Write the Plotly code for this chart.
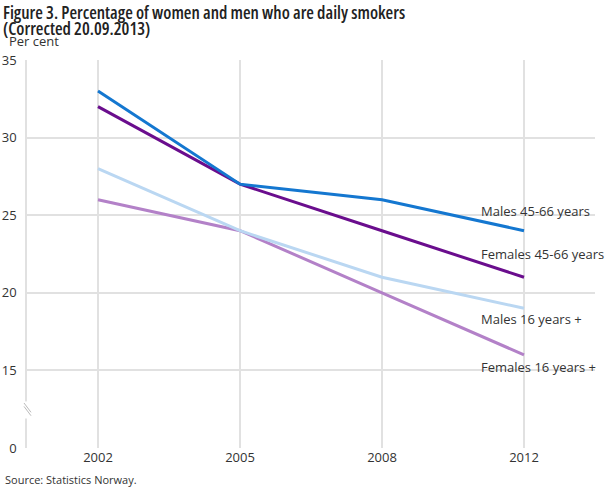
import plotly.graph_objects as go

years = ["2002", "2005", "2008", "2012"]
males_45_66 = [33, 27, 26, 24]
females_45_66 = [32, 27, 24, 21]
males_16 = [28, 24, 21, 19]
females_16 = [26, 24, 20, 16]

series_names = ["Males 45-66 years", "Females 45-66 years", "Males 16 years +", "Females 16 years +"]
series_values = [males_45_66, females_45_66, males_16, females_16]
colors = ["#1477d0", "#6a0d8d", "#bad7f2", "#b381c8"]
# where the end labels sit on the y axis
label_y = [25.3, 22.5, 18.3, 15.2]

# the axis is broken: the 0 tick is drawn where 10 would be
tick_vals = [10, 15, 20, 25, 30, 35]
tick_text = ["0", "15", "20", "25", "30", "35"]

title_lines = ["Figure 3. Percentage of women and men who are daily smokers",
               "(Corrected 20.09.2013)"]

font = "Open Sans"
text_color = "#333333"
grid_color = "#e1e1e1"

fig = go.Figure()

# draw the lighter ones first so the dark ones sit on top
for i in [3, 2, 1, 0]:
    fig.add_trace(go.Scatter(x=years, y=series_values[i], mode="lines",
                             name=series_names[i],
                             line=dict(color=colors[i], width=3),
                             hoverinfo="x+y+name"))

# category axis: annotations take the category index
last = len(years) - 1
for name, ly in zip(series_names, label_y):
    fig.add_annotation(x=last, y=ly, text=name, showarrow=False,
                       xanchor="left", xshift=-45,
                       font=dict(family=font, size=13, color=text_color))

# title font is a condensed open sans semibold
for line, shift in zip(title_lines, [48, 32]):
    fig.add_annotation(xref="paper", yref="paper", x=-0.046, y=1.0, yshift=shift,
                       xanchor="left", yanchor="middle",
                       text='<span style="font-stretch:condensed">' + line + "</span>",
                       showarrow=False,
                       font=dict(family=font, size=17.5, color="#222222", weight=600))
fig.add_annotation(xref="paper", yref="paper", x=-0.035, y=1.0, yshift=8,
                   xanchor="left", yanchor="bottom", text="Per cent",
                   showarrow=False, font=dict(family=font, size=13, color=text_color))
fig.add_annotation(xref="paper", yref="paper", x=-0.043, y=0.0, yshift=-22,
                   xanchor="left", yanchor="top", text="Source: Statistics Norway.",
                   showarrow=False, font=dict(family=font, size=11, color=text_color))

# axis break marks
px = 1 / 568
fig.add_shape(type="rect", xref="paper", yref="y", x0=-3 * px, x1=4 * px, y0=11.9, y1=13.0,
              fillcolor="white", line=dict(width=0), layer="above")
for dy in [0, 0.22]:
    fig.add_shape(type="line", xref="paper", yref="y",
                  x0=-3 * px, x1=4 * px, y0=12.9 - dy, y1=12.3 - dy,
                  line=dict(color="#bbbbbb", width=1), layer="above")

fig.update_layout(
    width=610, height=488,
    margin=dict(l=27, r=15, t=60, b=40),
    paper_bgcolor="white", plot_bgcolor="white",
    showlegend=False,
    font=dict(family=font, size=13, color=text_color),
    xaxis=dict(type="category", range=[-0.5, 3.5], showgrid=True, gridcolor=grid_color,
               gridwidth=1.5, ticks="", zeroline=False, showline=False, automargin=False,
               tickfont=dict(size=13, color=text_color)),
    yaxis=dict(range=[10, 35], tickvals=tick_vals, ticktext=tick_text, automargin=False,
               showgrid=True, gridcolor=grid_color, gridwidth=1.5, zeroline=False,
               showline=True, linecolor=grid_color, linewidth=1.5, ticks="",
               ticklabelstandoff=6, tickfont=dict(size=13, color=text_color)),
)

# the page's default body margin would push the chart 8px down and right
fig.write_html("out.html", config={"displayModeBar": False},
               post_script="document.body.style.margin='0';")
